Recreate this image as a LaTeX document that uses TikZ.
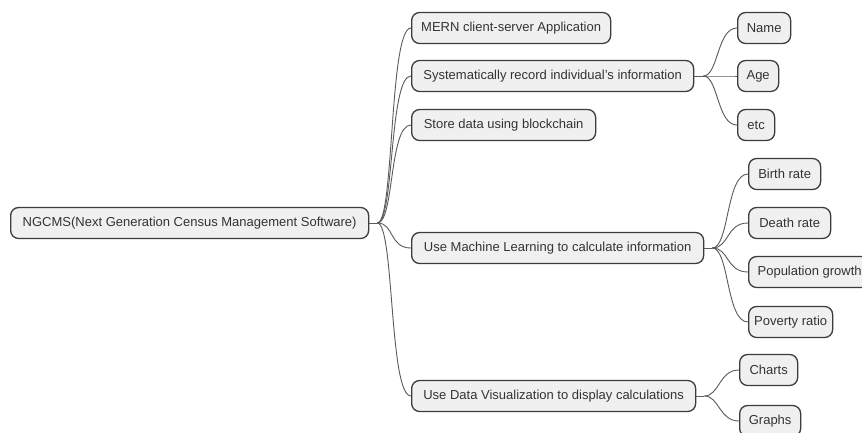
\documentclass[tikz,border=0pt]{standalone}
\usepackage{fontspec}
\setmainfont{Liberation Sans}
\definecolor{boxfill}{HTML}{F0F0F0}
\definecolor{boxline}{HTML}{3C3C3C}
\definecolor{txt}{HTML}{333333}
\definecolor{conn}{HTML}{5A5A5A}
\begin{document}
\begin{tikzpicture}[x=1pt,y=-1pt,
  topic/.style={draw=boxline, line width=1.3pt, fill=boxfill, rounded corners=8pt,
    minimum height=31pt, inner xsep=0pt, inner ysep=0pt, text=txt,
    font=\fontsize{13}{15}\selectfont, anchor=west},
  link/.style={draw=conn, line width=0.9pt}]
\useasboundingbox (0,0) rectangle (862,432);
\clip (0,0) rectangle (862,432);
\fill[white] (0,0) rectangle (862,432);

\node[topic, minimum width=358pt] (root) at (10,223) {NGCMS(Next Generation Census Management Software)};

\node[topic, minimum width=199pt] (mern) at (411,28) {MERN client-server Application};
\node[topic, minimum width=282pt] (sys) at (411,76) {Systematically record individual's information};
\node[topic, minimum width=184pt] (store) at (411,125) {Store data using blockchain};
\node[topic, minimum width=292pt] (ml) at (411,248) {Use Machine Learning to calculate information};
\node[topic, minimum width=284pt] (dv) at (411,396) {Use Data Visualization to display calculations};

\node[topic, minimum width=53pt] (name) at (737,28) {Name};
\node[topic, minimum width=41pt] (age) at (737,76) {Age};
\node[topic, minimum width=37pt] (etc) at (737,125) {etc};

\node[topic, minimum width=72pt] (birth) at (748,174) {Birth rate};
\node[topic, minimum width=82pt] (death) at (748,223) {Death rate};
\node[topic, minimum width=122pt] (pop) at (748,272) {Population growth};
\node[topic, minimum width=84pt] (pov) at (748,322) {Poverty ratio};

\node[topic, minimum width=58pt] (charts) at (739,370) {Charts};
\node[topic, minimum width=61pt] (graphs) at (739,421) {Graphs};

\coordinate (rootj) at ([xshift=8pt]root.east);
\coordinate (sysj) at ([xshift=9pt]sys.east);
\coordinate (mlj) at ([xshift=8pt]ml.east);
\coordinate (dvj) at ([xshift=8pt]dv.east);

\begin{scope}[on background layer/.style={}]
\draw[link] (root.east) -- (rootj);
\foreach \c in {mern,sys,store,ml,dv}
  \draw[link] (rootj) .. controls +(17,0) and +(-22,0) .. (\c.west);
\draw[link] (sys.east) -- (sysj);
\foreach \c in {name,age,etc}
  \draw[link] (sysj) .. controls +(15,0) and +(-20,0) .. (\c.west);
\draw[link] (ml.east) -- (mlj);
\foreach \c in {birth,death,pop,pov}
  \draw[link] (mlj) .. controls +(17,0) and +(-22,0) .. (\c.west);
\draw[link] (dv.east) -- (dvj);
\foreach \c in {charts,graphs}
  \draw[link] (dvj) .. controls +(15,0) and +(-20,0) .. (\c.west);
\end{scope}
\end{tikzpicture}
\end{document}
